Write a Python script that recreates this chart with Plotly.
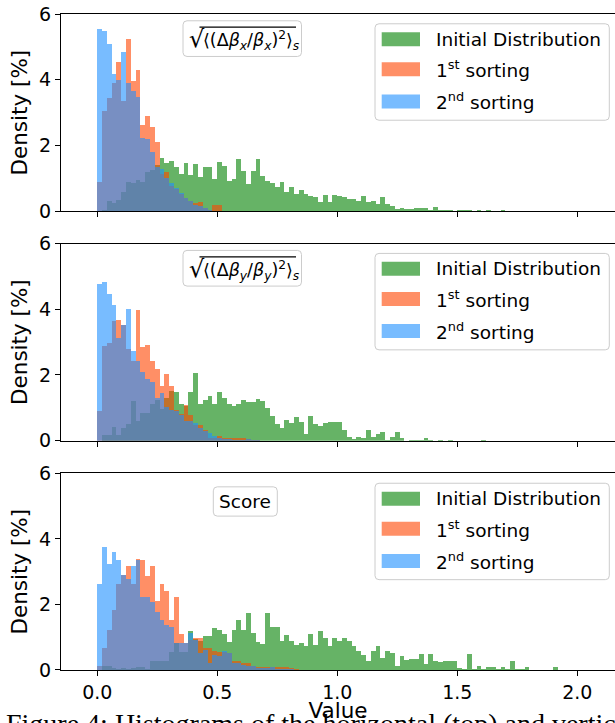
import plotly.graph_objects as go

W, H = 615, 723
ML = 61
PW = W - ML
T_PX, B_PX = 13.5, 670.0
PH = B_PX - T_PX

BIN_WIDTH = 0.02
SERIES_NAMES = ["Initial Distribution", "1<sup>st</sup> sorting", "2<sup>nd</sup> sorting"]
SERIES_COLORS = ["rgba(0,128,0,0.6)", "rgba(255,69,0,0.6)", "rgba(30,144,255,0.6)"]

# ---- Panel 1: sqrt(<(d beta_x / beta_x)^2>_s) ----
p1_initial = [0.0, 0.05, 0.3, 0.25, 0.35, 0.6, 0.9, 0.85, 0.95, 0.9, 1.2, 1.25, 1.4, 1.62, 1.46, 1.54,
              1.34, 1.13, 1.46, 1.1, 1.44, 1.03, 1.36, 1.36, 0.98, 1.51, 1.39, 0.93, 0.98, 1.59, 1.24,
              0.83, 1.22, 1.59, 1.08, 0.93, 0.85, 0.73, 0.88, 0.58, 0.73, 0.53, 0.65, 0.53, 0.48, 0.45,
              0.28, 0.5, 0.28, 0.5, 0.48, 0.45, 0.37, 0.37, 0.3, 0.48, 0.27, 0.3, 0.22, 0.45, 0.22, 0.15,
              0.08, 0.1, 0.07, 0.07, 0.1, 0.1, 0.1, 0.04, 0.12, 0.04, 0.04, 0.04, 0.02, 0.04, 0.04, 0.04,
              0.0, 0.04, 0.0, 0.04, 0.0, 0.0, 0.04]
p1_first = [0.9, 3.05, 3.45, 3.9, 4.55, 3.36, 5.24, 3.97, 4.3, 2.62, 2.9, 2.55, 2.1, 1.13, 1.2, 0.78,
            0.68, 0.53, 0.42, 0.32, 0.25, 0.27, 0.1, 0.05, 0.2, 0.2, 0.02, 0.02, 0.02]
p1_second = [5.54, 5.49, 5.1, 4.19, 3.99, 4.85, 3.89, 3.67, 3.47, 2.23, 2.2, 1.81, 1.34, 1.3, 1.0, 0.85,
             0.7, 0.55, 0.4, 0.3, 0.2, 0.15, 0.1, 0.05, 0.02, 0.02, 0.02, 0.0, 0.0, 0.0, 0.0, 0.0, 0.02]

# ---- Panel 2: sqrt(<(d beta_y / beta_y)^2>_s) ----
p2_initial = [0.0, 0.18, 0.18, 0.43, 0.18, 0.4, 0.53, 1.22, 0.6, 0.86, 0.86, 1.12, 1.24, 0.97, 1.32, 1.53,
              1.48, 1.12, 1.07, 1.48, 2.07, 1.12, 1.24, 1.37, 1.12, 1.5, 1.32, 1.12, 1.07, 1.12, 1.24,
              1.2, 1.2, 1.27, 1.22, 1.02, 0.76, 0.51, 0.4, 0.63, 0.56, 0.73, 0.58, 0.2, 0.76, 0.52, 0.46,
              0.54, 0.57, 0.57, 0.59, 0.34, 0.12, 0.05, 0.12, 0.1, 0.34, 0.12, 0.23, 0.27, 0.02, 0.12,
              0.27, 0.08, 0.0, 0.03, 0.03, 0.03, 0.08, 0.03, 0.0, 0.03, 0.0, 0.03, 0.0, 0.0, 0.0, 0.0,
              0.0, 0.0, 0.03]
p2_first = [0.9, 2.9, 3.0, 3.66, 3.68, 3.53, 2.8, 2.45, 4.0, 2.87, 2.93, 2.44, 2.2, 1.68, 2.03, 1.68,
            0.94, 0.82, 1.1, 0.8, 0.5, 0.5, 0.35, 0.1, 0.1, 0.15, 0.1, 0.1, 0.1, 0.1, 0.08, 0.05, 0.02, 0.02]
p2_second = [4.78, 4.84, 4.48, 4.14, 3.15, 3.53, 4.02, 2.75, 2.45, 2.1, 1.9, 1.8, 1.3, 1.45, 1.05, 0.95,
             0.9, 0.8, 0.6, 0.6, 0.55, 0.4, 0.3, 0.25, 0.15, 0.08, 0.05, 0.05, 0.03, 0.02, 0.02, 0.05,
             0.02, 0.02]

# ---- Panel 3: Score ----
p3_initial = [0.0, 0.1, 0.1, 0.05, 0.02, 0.05, 0.02, 0.05, 0.08, 0.08, 0.02, 0.27, 0.27, 0.27, 0.27, 0.55,
              0.8, 0.55, 0.55, 1.17, 0.92, 0.87, 1.02, 1.02, 1.27, 1.22, 1.1, 0.83, 1.2, 1.5, 1.2, 1.73,
              1.12, 0.83, 0.79, 1.73, 1.29, 1.29, 0.86, 1.07, 0.86, 0.76, 0.81, 0.73, 1.1, 0.76, 1.19,
              0.97, 0.71, 0.97, 0.86, 0.97, 0.86, 0.73, 0.58, 0.43, 0.27, 0.58, 0.73, 0.34, 0.56, 0.51,
              0.12, 0.4, 0.3, 0.32, 0.32, 0.46, 0.18, 0.49, 0.25, 0.22, 0.25, 0.25, 0.25, 0.05, 0.02,
              0.49, 0.02, 0.12, 0.02, 0.08, 0.08, 0.02, 0.08, 0.02, 0.25, 0.02, 0.02, 0.08, 0.0, 0.0,
              0.0, 0.0, 0.0, 0.08]
p3_first = [0.1, 0.66, 1.2, 1.83, 2.6, 2.9, 3.17, 2.6, 3.38, 3.34, 2.85, 3.17, 2.08, 2.6, 2.39, 1.5, 2.2,
            1.09, 0.81, 0.9, 0.97, 0.97, 0.65, 0.65, 0.56, 0.53, 0.53, 0.5, 0.27, 0.25, 0.2, 0.2, 0.1,
            0.08, 0.08, 0.08, 0.08, 0.08, 0.08, 0.08, 0.05, 0.02]
p3_second = [2.62, 3.74, 3.22, 3.6, 3.34, 2.9, 2.77, 3.15, 3.34, 2.2, 2.2, 2.05, 1.75, 1.5, 1.37, 1.29,
             0.81, 0.81, 0.81, 1.12, 0.89, 0.5, 0.6, 0.2, 0.45, 0.4, 0.56, 0.5, 0.2, 0.2, 0.15, 0.1, 0.1,
             0.05, 0.05, 0.05, 0.08, 0.03, 0.02, 0.02, 0.02]

PANELS = [
    [p1_initial, p1_first, p1_second],
    [p2_initial, p2_first, p2_second],
    [p3_initial, p3_first, p3_second],
]
X_TICKS = [0.0, 0.5, 1.0, 1.5, 2.0]
X_TICK_TEXT = ["0.0", "0.5", "1.0", "1.5", "2.0"]
Y_TICKS = [0, 2, 4, 6]
Y_TICK_TEXT = ["0", "2", "4", "6"]

# ---------------- layout in pixels ----------------
PANEL_TOP = [13.5, 243.3, 473.3]
PANEL_BOT = [211.0, 440.5, 670.0]
FONT = "DejaVu Sans"


def px_x(px):
    return (px - ML) / PW


def px_y(py):
    return (B_PX - py) / PH


def rrect(x0, y0, x1, y1, r):
    rx = r / PW
    ry = r / PH
    X0, X1 = px_x(x0), px_x(x1)
    Y0, Y1 = px_y(y0), px_y(y1)  # Y0 top (larger), Y1 bottom
    return (f"M {X0+rx},{Y0} L {X1-rx},{Y0} Q {X1},{Y0} {X1},{Y0-ry} "
            f"L {X1},{Y1+ry} Q {X1},{Y1} {X1-rx},{Y1} L {X0+rx},{Y1} "
            f"Q {X0},{Y1} {X0},{Y1+ry} L {X0},{Y0-ry} Q {X0},{Y0} {X0+rx},{Y0} Z")


fig = go.Figure()
for p, series in enumerate(PANELS):
    ax = "" if p == 0 else str(p + 1)
    for s, vals in enumerate(series):
        centers = [BIN_WIDTH * (k + 0.5) for k in range(len(vals))]
        fig.add_trace(go.Bar(
            x=centers, y=vals, width=BIN_WIDTH,
            marker=dict(color=SERIES_COLORS[s], line=dict(width=0)),
            xaxis="x" + ax, yaxis="y" + ax, showlegend=False, name=SERIES_NAMES[s],
        ))

layout = dict(
    width=W, height=H,
    margin=dict(l=ML, r=0, t=T_PX, b=H - B_PX, autoexpand=False),
    paper_bgcolor="white", plot_bgcolor="white",
    barmode="overlay", bargap=0,
    font=dict(family=FONT, color="black", size=19),
)
shapes = []
annotations = []
for p in range(3):
    ax = "" if p == 0 else str(p + 1)
    dom = [px_y(PANEL_BOT[p]), px_y(PANEL_TOP[p])]
    layout["xaxis" + ax] = dict(
        domain=[0, 1], anchor="y" + ax, range=[-0.151, 2.157], automargin=False,
        tickvals=X_TICKS, ticktext=X_TICK_TEXT, showticklabels=(p == 2),
        ticks="outside", ticklen=5, tickwidth=1, tickcolor="black",
        showline=True, linecolor="black", linewidth=1, mirror=True,
        showgrid=False, zeroline=False,
        tickfont=dict(family=FONT, size=19),
        title=dict(text="Value" if p == 2 else "", font=dict(family=FONT, size=21.5), standoff=8),
    )
    layout["yaxis" + ax] = dict(
        domain=dom, anchor="x" + ax, range=[0, 6], automargin=False,
        tickvals=Y_TICKS, ticktext=Y_TICK_TEXT,
        ticks="outside", ticklen=5, tickwidth=1, tickcolor="black",
        showline=True, linecolor="black", linewidth=1,
        showgrid=False, zeroline=False,
        tickfont=dict(family=FONT, size=19),
        title=dict(text="Density [%]", font=dict(family=FONT, size=21.5), standoff=5),
    )

    top = PANEL_TOP[p]
    # legend box
    shapes.append(dict(type="path", xref="paper", yref="paper",
                       path=rrect(375, top + 9.8, 609.3, top + 106.3, 4),
                       fillcolor="rgba(255,255,255,0.8)", line=dict(color="#cccccc", width=1)))
    for s in range(3):
        cy = top + [25.2, 55.3, 87.5][s]
        shapes.append(dict(type="rect", xref="paper", yref="paper",
                           x0=px_x(381.7), x1=px_x(420), y0=px_y(cy + 7), y1=px_y(cy - 7),
                           fillcolor=SERIES_COLORS[s], line=dict(width=0)))
        annotations.append(dict(xref="paper", yref="paper", x=px_x(434), y=px_y(cy),
                                xanchor="left", yanchor="middle", showarrow=False,
                                text=SERIES_NAMES[s], font=dict(family=FONT, size=18.5, color="black")))

# math label boxes
for p, sub in [(0, "x"), (1, "y")]:
    top = PANEL_TOP[p]
    shapes.append(dict(type="path", xref="paper", yref="paper",
                       path=rrect(183, top + 6.8, 301.5, top + 42.5, 4),
                       fillcolor="white", line=dict(color="#cccccc", width=1)))
    shapes.append(dict(type="line", xref="paper", yref="paper",
                       x0=px_x(199.5), x1=px_x(296), y0=px_y(top + 13.2), y1=px_y(top + 13.2),
                       line=dict(color="black", width=1.3)))
    annotations.append(dict(xref="paper", yref="paper", x=px_x(186.5), y=px_y(top + 25.5),
                            xanchor="left", yanchor="middle", showarrow=False,
                            text="√", font=dict(family=FONT, size=24, color="black")))
    annotations.append(dict(xref="paper", yref="paper", x=px_x(200.5), y=px_y(top + 27),
                            xanchor="left", yanchor="middle", showarrow=False,
                            text=f"⟨(Δ<i>β</i><sub><i>{sub}</i></sub>/<i>β</i><sub><i>{sub}</i></sub>)<sup>2</sup>⟩<sub><i>s</i></sub>",
                            font=dict(family=FONT, size=17.5, color="black")))

top = PANEL_TOP[2]
shapes.append(dict(type="path", xref="paper", yref="paper",
                   path=rrect(213.3, top + 13.4, 277.3, top + 42.7, 4),
                   fillcolor="white", line=dict(color="#cccccc", width=1)))
annotations.append(dict(xref="paper", yref="paper", x=px_x(245.3), y=px_y(top + 28),
                        xanchor="center", yanchor="middle", showarrow=False,
                        text="Score", font=dict(family=FONT, size=18.5, color="black")))

# caption of the paper figure (cropped by the window)
annotations.append(dict(xref="paper", yref="paper", x=px_x(4), y=px_y(706.5),
                        xanchor="left", yanchor="top", showarrow=False,
                        text="Figure 4: Histograms of the horizontal (top) and vertical (middle)",
                        font=dict(family="Liberation Serif", size=28, color="black")))

layout["shapes"] = shapes
layout["annotations"] = annotations
fig.update_layout(**layout)
fig.write_html("out.html")
